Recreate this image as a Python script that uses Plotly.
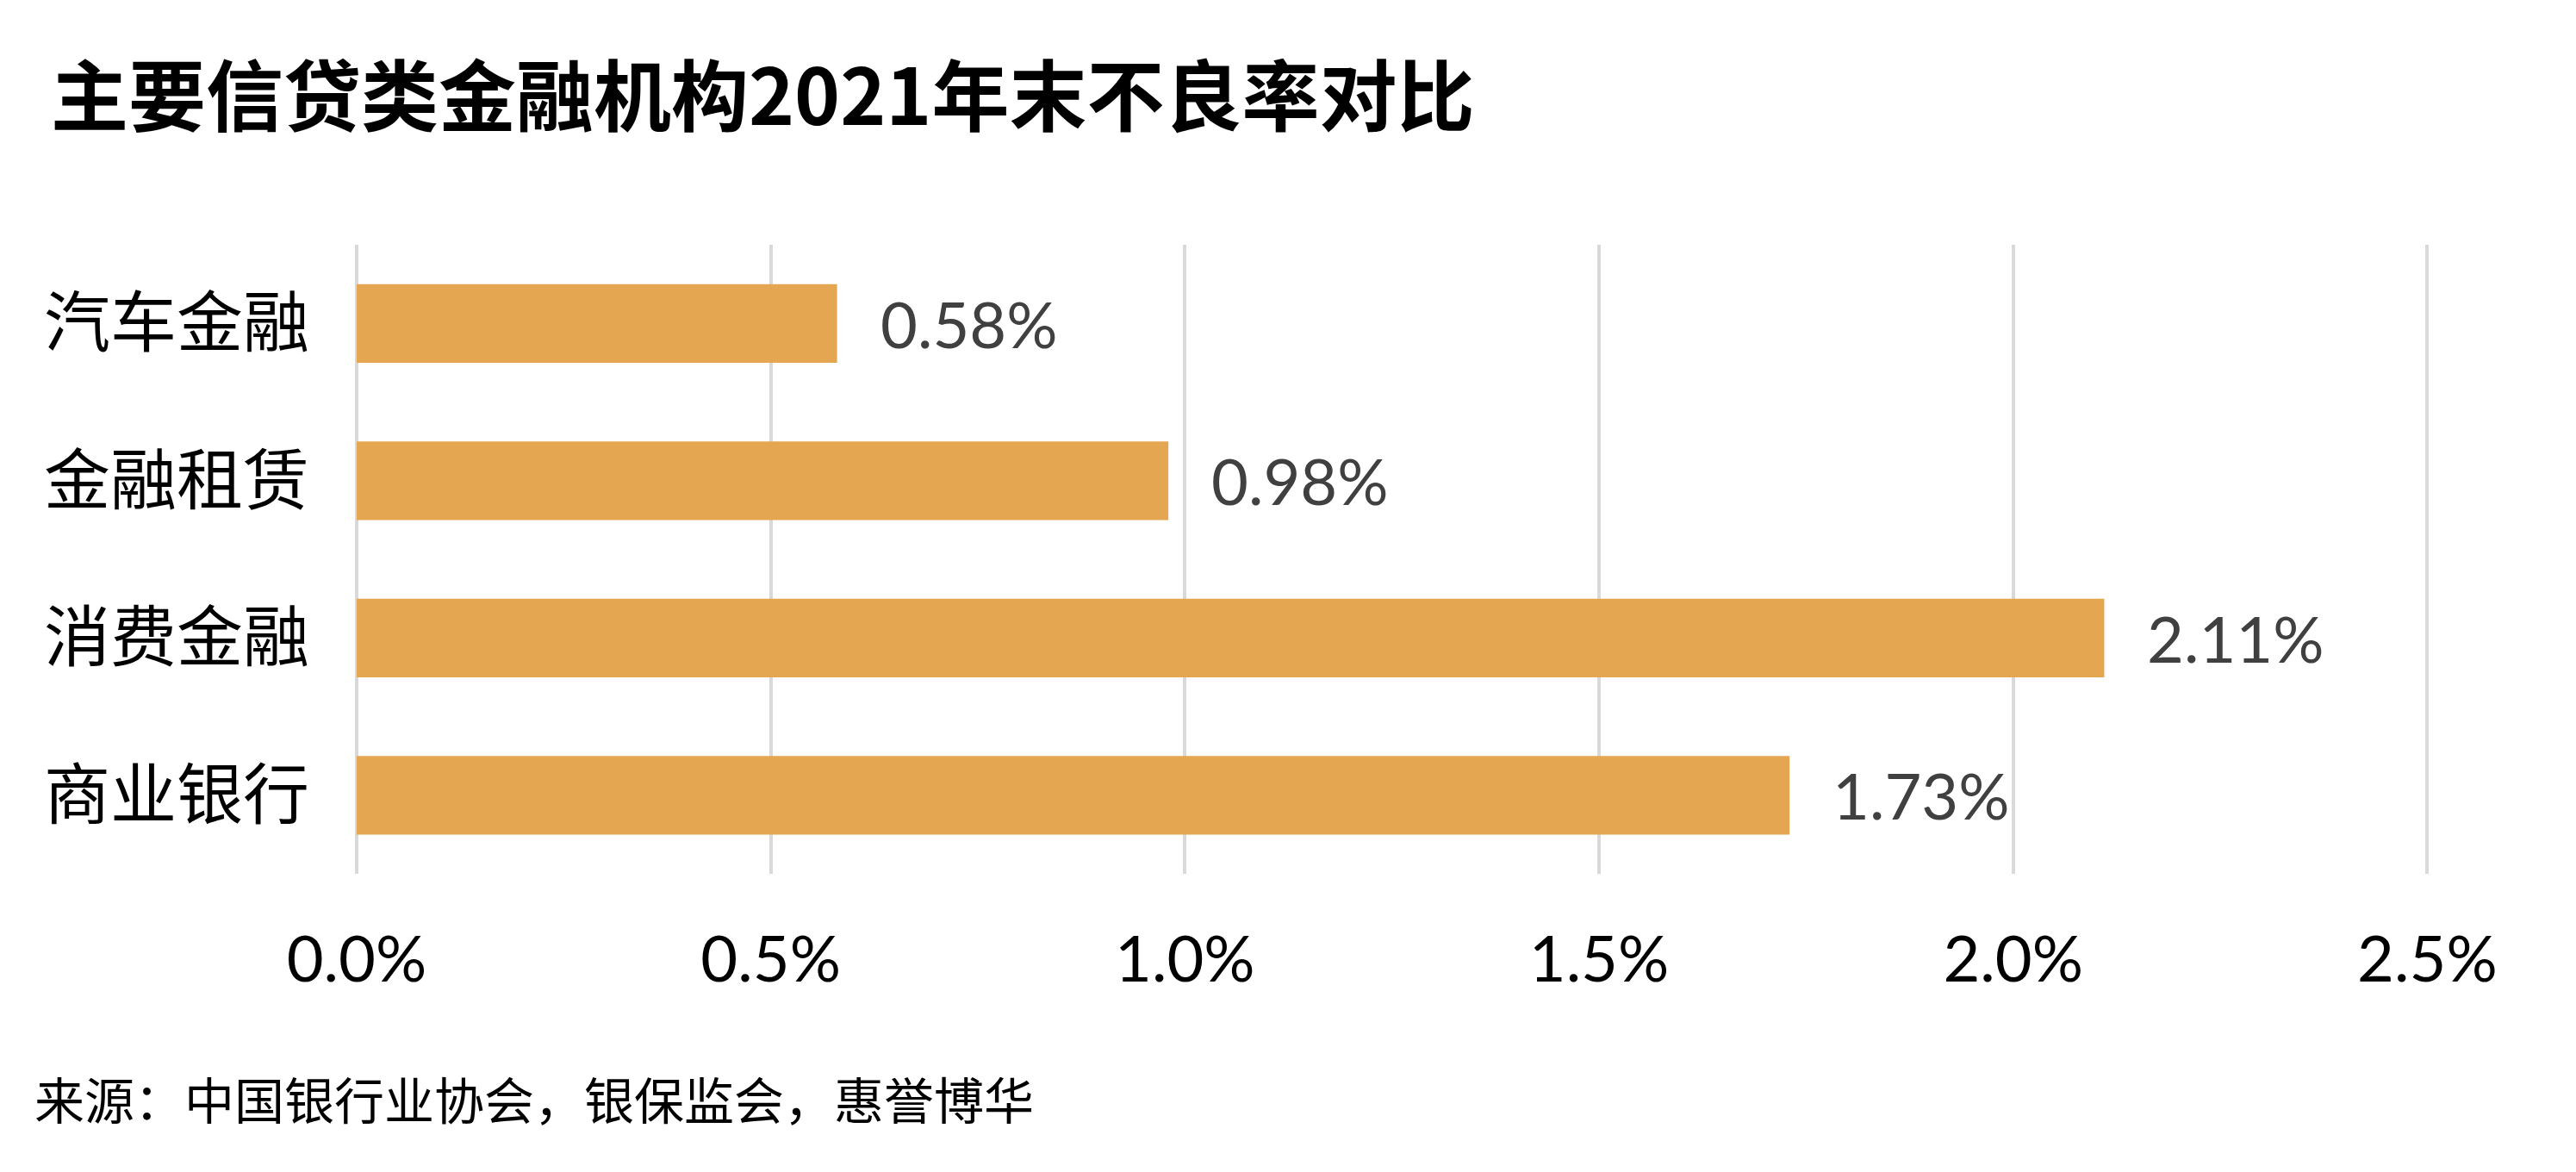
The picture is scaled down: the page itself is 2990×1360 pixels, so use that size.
import plotly.graph_objects as go

categories = ["汽车金融", "金融租赁", "消费金融", "商业银行"]
npl_rates = [0.58, 0.98, 2.11, 1.73]  # percent
value_labels = ["0.58%", "0.98%", "2.11%", "1.73%"]
x_tickvals = [0.0, 0.5, 1.0, 1.5, 2.0, 2.5]
x_ticktext = ["0.0%", "0.5%", "1.0%", "1.5%", "2.0%", "2.5%"]

title_text = "主要信贷类金融机构2021年末不良率对比"
source_text = "来源：中国银行业协会，银保监会，惠誉博华"

# page body has an 8px default margin; size the figure to fit the window
W, H = 2974, 1344
L, R, T, B = 406, 155, 276, 338

CJK = "Noto Sans CJK SC"
NUM = "Lato"

fig = go.Figure()
fig.add_trace(go.Bar(
    x=npl_rates, y=categories, orientation="h",
    marker=dict(color="#E4A650", line=dict(width=0)),
    width=0.5, hoverinfo="skip", showlegend=False,
))

for v, c, t in zip(npl_rates, categories, value_labels):
    fig.add_annotation(x=v, y=c, xref="x", yref="y", text=t, showarrow=False,
                       xanchor="left", yanchor="middle", xshift=48,
                       font=dict(family=NUM, size=74, color="#404040"))

plot_w = W - L - R
plot_h = H - T - B


def fig_to_paper(px, py):
    return (px - L) / plot_w, 1 - (py - T) / plot_h


tx, ty = fig_to_paper(49, 98)
fig.add_annotation(x=tx, y=ty, xref="paper", yref="paper",
                   text="<b>" + title_text + "</b>", showarrow=False,
                   xanchor="left", yanchor="middle",
                   font=dict(family=CJK, size=90, color="#000000"))
sx, sy = fig_to_paper(30, 1266)
fig.add_annotation(x=sx, y=sy, xref="paper", yref="paper",
                   text=source_text, showarrow=False,
                   xanchor="left", yanchor="middle",
                   font=dict(family=CJK, size=58, color="#000000"))

fig.update_layout(
    width=W, height=H,
    margin=dict(l=L, r=R, t=T, b=B, autoexpand=False),
    paper_bgcolor="white", plot_bgcolor="white",
    bargap=0.5,
    xaxis=dict(range=[0, 2.51], tickvals=x_tickvals, ticktext=x_ticktext,
               showgrid=True, gridcolor="#D9D9D9", gridwidth=4,
               zeroline=True, zerolinecolor="#D9D9D9", zerolinewidth=4,
               showline=False, ticks="", ticklabelstandoff=50,
               tickfont=dict(family=NUM, size=74, color="#000000")),
    yaxis=dict(categoryorder="array", categoryarray=categories, autorange="reversed",
               showgrid=False, zeroline=False, showline=False, ticks="",
               ticklabelstandoff=54,
               tickfont=dict(family=CJK, size=77, color="#000000")),
)

fig.write_html("out.html")
